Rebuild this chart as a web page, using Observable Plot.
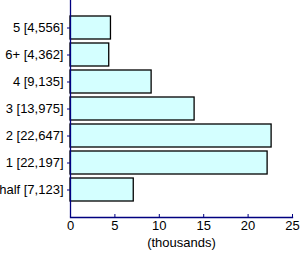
<!DOCTYPE html>
<html>
<head>
<meta charset="utf-8">
<script src="https://cdn.jsdelivr.net/npm/d3@7"></script>
<script src="https://cdn.jsdelivr.net/npm/@observablehq/plot@0.6"></script>
<style>
  html, body { margin: 0; padding: 0; background: #fff; }
</style>
</head>
<body>
<div id="chart"></div>
<script>
const categories = ["5 [4,556]", "6+ [4,362]", "4 [9,135]", "3 [13,975]", "2 [22,647]", "1 [22,197]", "half [7,123]"];
const values = [4.556, 4.362, 9.135, 13.975, 22.647, 22.197, 7.123];
const xTicks = [0, 5, 10, 15, 20, 25];
const xLabel = "(thousands)";

const data = categories.map((c, i) => ({category: c, value: values[i]}));

const chart = Plot.plot({
  width: 300,
  height: 254,
  marginLeft: 70,
  marginRight: 8,
  marginTop: 0,
  marginBottom: 37,
  style: {fontFamily: "'Liberation Sans', Arial, sans-serif", fontSize: "13px", color: "black", background: "white"},
  x: {domain: [0, 25]},
  y: {domain: categories, paddingInner: 0.15, paddingOuter: 0.58},
  marks: [
    Plot.barX(data, {y: "category", x: "value", fill: "#d4ffff", stroke: "black", strokeWidth: 1.3}),
    Plot.ruleX([0], {stroke: "#000080", strokeWidth: 1.3}),
    Plot.frame({anchor: "bottom", stroke: "#000080", strokeWidth: 1.3}),
    Plot.axisY({tickSize: 3, tickPadding: 4, stroke: "#000080", fill: "black", label: null, fontSize: 13}),
    Plot.axisX({ticks: xTicks, tickSize: -3, tickPadding: 6, stroke: "#000080", fill: "black", fontSize: 13,
      label: xLabel, labelAnchor: "center", labelArrow: "none", labelOffset: 29, labelFontSize: 13.5})
  ]
});
document.getElementById("chart").appendChild(chart);
</script>
</body>
</html>
